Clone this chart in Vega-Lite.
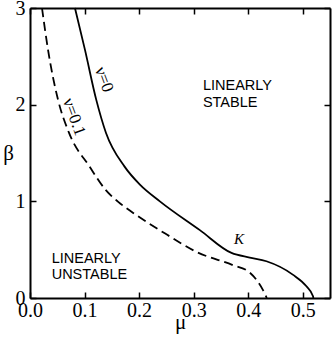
{
  "$schema": "https://vega.github.io/schema/vega-lite/v6.json",
  "width": 300,
  "height": 290,
  "autosize": "none",
  "padding": {"left": 30, "top": 8, "right": 2, "bottom": 40},
  "background": "white",
  "config": {
    "view": {"stroke": null},
    "axis": {
      "grid": false,
      "domainColor": "black",
      "domainWidth": 2,
      "tickColor": "black",
      "tickWidth": 1.5,
      "tickSize": -6,
      "labelFont": "Liberation Serif",
      "labelFontSize": 20,
      "labelColor": "black",
      "labelFlush": false,
      "titleFont": "Liberation Serif",
      "titleFontSize": 21,
      "titleColor": "black",
      "titleFontWeight": "normal"
    }
  },
  "datasets": {
    "solid": [
      {"i": 0, "mu": 0.0824, "beta": 3.0},
      {"i": 1, "mu": 0.1007, "beta": 2.569},
      {"i": 2, "mu": 0.1214, "beta": 2.052},
      {"i": 3, "mu": 0.1392, "beta": 1.71},
      {"i": 4, "mu": 0.1734, "beta": 1.359},
      {"i": 5, "mu": 0.2015, "beta": 1.173},
      {"i": 6, "mu": 0.2381, "beta": 1.0},
      {"i": 7, "mu": 0.3114, "beta": 0.702},
      {"i": 8, "mu": 0.3694, "beta": 0.466},
      {"i": 9, "mu": 0.4029, "beta": 0.418},
      {"i": 10, "mu": 0.4335, "beta": 0.38},
      {"i": 11, "mu": 0.4817, "beta": 0.242},
      {"i": 12, "mu": 0.5068, "beta": 0.121},
      {"i": 13, "mu": 0.5189, "beta": 0.018},
      {"i": 14, "mu": 0.5195, "beta": 0.0}
    ],
    "dashed": [
      {"i": 0, "mu": 0.022, "beta": 3.0},
      {"i": 1, "mu": 0.033, "beta": 2.569},
      {"i": 2, "mu": 0.0513, "beta": 2.052},
      {"i": 3, "mu": 0.0714, "beta": 1.71},
      {"i": 4, "mu": 0.1093, "beta": 1.359},
      {"i": 5, "mu": 0.1383, "beta": 1.121},
      {"i": 6, "mu": 0.1612, "beta": 0.997},
      {"i": 7, "mu": 0.1892, "beta": 0.88},
      {"i": 8, "mu": 0.2509, "beta": 0.656},
      {"i": 9, "mu": 0.304, "beta": 0.48},
      {"i": 10, "mu": 0.3718, "beta": 0.34},
      {"i": 11, "mu": 0.4029, "beta": 0.263},
      {"i": 12, "mu": 0.4176, "beta": 0.17},
      {"i": 13, "mu": 0.4267, "beta": 0.087},
      {"i": 14, "mu": 0.4322, "beta": 0.025},
      {"i": 15, "mu": 0.434, "beta": 0.0}
    ],
    "nu": [
      {"label": "ν=0", "mu": 0.1355, "beta": 2.26},
      {"label": "ν=0.1", "mu": 0.0806, "beta": 1.874}
    ],
    "k": [{"label": "K", "mu": 0.383, "beta": 0.614}],
    "regions": [
      {"label": "LINEARLY", "mu": 0.317, "beta": 2.148},
      {"label": "STABLE", "mu": 0.317, "beta": 1.979},
      {"label": "LINEARLY", "mu": 0.0397, "beta": 0.366},
      {"label": "UNSTABLE", "mu": 0.0397, "beta": 0.2}
    ]
  },
  "layer": [
    {
      "data": {"name": "solid"},
      "mark": {"type": "line", "color": "black", "strokeWidth": 1.8, "interpolate": "monotone"},
      "encoding": {
        "x": {
          "field": "mu", "type": "quantitative",
          "scale": {"domain": [0, 0.55], "nice": false, "zero": false},
          "axis": {"orient": "bottom", "values": [0, 0.1, 0.2, 0.3, 0.4, 0.5], "format": ".1f", "title": "μ", "labelPadding": 8, "titleBaseline": "alphabetic", "titleY": 30, "titleX": 150, "titleAlign": "center"}
        },
        "y": {
          "field": "beta", "type": "quantitative",
          "scale": {"domain": [0, 3], "nice": false, "zero": false},
          "axis": {"orient": "left", "values": [0, 1, 2, 3], "format": "d", "title": "β", "labelPadding": 11, "titleAngle": 0, "titleX": -22, "titleY": 145, "titleAlign": "center", "titleBaseline": "middle"}
        },
        "order": {"field": "i", "type": "quantitative"}
      }
    },
    {
      "data": {"name": "dashed"},
      "mark": {"type": "line", "color": "black", "strokeWidth": 1.8, "strokeDash": [9, 5], "interpolate": "monotone"},
      "encoding": {
        "x": {
          "field": "mu", "type": "quantitative",
          "scale": {"domain": [0, 0.55], "nice": false, "zero": false},
          "axis": {"orient": "top", "values": [0, 0.1, 0.2, 0.3, 0.4, 0.5], "labels": false, "title": null}
        },
        "y": {
          "field": "beta", "type": "quantitative",
          "scale": {"domain": [0, 3], "nice": false, "zero": false},
          "axis": {"orient": "right", "values": [0, 1, 2, 3], "labels": false, "title": null}
        },
        "order": {"field": "i", "type": "quantitative"}
      }
    },
    {
      "data": {"name": "nu"},
      "mark": {"type": "text", "font": "Liberation Serif", "fontSize": 17, "angle": 70, "align": "center", "baseline": "middle", "color": "black"},
      "encoding": {
        "x": {"field": "mu", "type": "quantitative", "axis": null},
        "y": {"field": "beta", "type": "quantitative", "axis": null},
        "text": {"field": "label"}
      }
    },
    {
      "data": {"name": "k"},
      "mark": {"type": "text", "font": "Liberation Serif", "fontSize": 15, "fontStyle": "italic", "align": "center", "baseline": "middle", "color": "black"},
      "encoding": {
        "x": {"field": "mu", "type": "quantitative", "axis": null},
        "y": {"field": "beta", "type": "quantitative", "axis": null},
        "text": {"field": "label"}
      }
    },
    {
      "data": {"name": "regions"},
      "mark": {"type": "text", "font": "Liberation Sans", "fontSize": 14.5, "align": "left", "baseline": "alphabetic", "color": "black"},
      "encoding": {
        "x": {"field": "mu", "type": "quantitative", "axis": null},
        "y": {"field": "beta", "type": "quantitative", "axis": null},
        "text": {"field": "label"}
      }
    }
  ],
  "resolve": {"axis": {"x": "independent", "y": "independent"}}
}
